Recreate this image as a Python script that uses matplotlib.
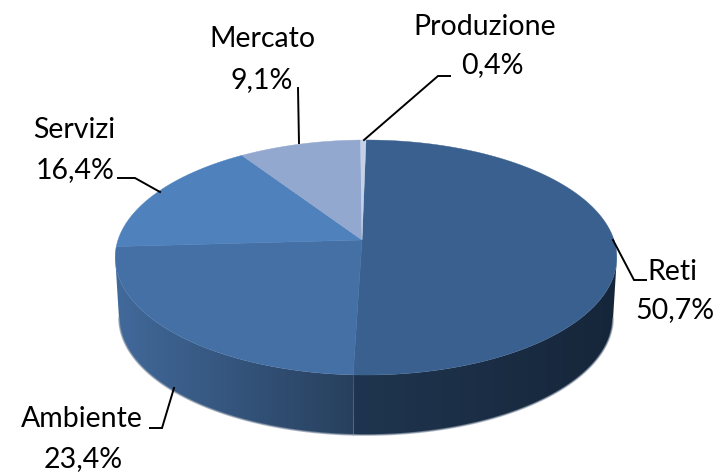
import numpy as np
import matplotlib
matplotlib.use("Agg")
import matplotlib.pyplot as plt
from matplotlib.colors import LinearSegmentedColormap
from matplotlib.patches import Polygon

plt.rcParams['font.family'] = ['Lato', 'DejaVu Sans']

categorie = ["Reti", "Ambiente", "Servizi", "Mercato", "Produzione"]
valori = [50.7, 23.4, 16.4, 9.1, 0.4]
colori = ["#3a608f", "#4470a5", "#4f81bd", "#92a8cf", "#c5d1e6"]
# gradient of the side wall, left to right, per slice
colori_lato = [("#1f354f", "#16263a"), ("#41699a", "#28405e"), ("#41699a", "#41699a"),
               ("#41699a", "#41699a"), ("#41699a", "#41699a")]

# label centre, leader line
pos_testo = [(672, 272, 675, 310), (82, 419, 83, 459), (74, 130, 75, 170),
             (262, 39, 262, 80), (485, 27, 492, 65)]
linee = [[(613, 240), (634, 280), (646, 280)],
         [(174, 388), (162, 428), (150, 428)],
         [(160, 192), (135, 178), (118, 178)],
         [(299, 143), (298, 88)],
         [(364, 140), (438, 76), (450, 76)]]

# perspective of the disc
CX, CY_APICE = 366, 240
K = 0.149
B = 114.9
S = 248
ALTEZZA = 60
CY_ELLISSE = 257.5


def proietta(theta):
    # theta clockwise from the top, radians
    u = np.sin(theta)
    v = np.cos(theta)
    d = 1 + K * v
    return CX + S * u / d, CY_APICE - B * v / d


fig = plt.figure(figsize=(7.17, 4.72), dpi=100)
ax = fig.add_axes([0, 0, 1, 1])
ax.set_xlim(0, 717)
ax.set_ylim(472, 0)
ax.axis("off")

cum = np.cumsum([0] + valori) / 100 * 2 * np.pi

# side wall
for i in range(len(valori)):
    t = np.linspace(cum[i], cum[i + 1], 200)
    x, y = proietta(t)
    m = y >= CY_ELLISSE
    if m.sum() < 2:
        continue
    x, y = x[m], y[m]
    xb = CX + (x - CX) * 0.985
    yb = y + ALTEZZA
    pts = np.column_stack([np.r_[x, xb[::-1]], np.r_[y, yb[::-1]]])
    pol = Polygon(pts, closed=True, facecolor="none", edgecolor="none")
    ax.add_patch(pol)
    cmap = LinearSegmentedColormap.from_list("lato", colori_lato[i])
    grad = np.linspace(0, 1, 64).reshape(1, -1)
    im = ax.imshow(grad, cmap=cmap, extent=[pts[:, 0].min(), pts[:, 0].max(), pts[:, 1].max(), pts[:, 1].min()],
                   aspect="auto", zorder=2, interpolation="bilinear")
    im.set_clip_path(pol)
    ax.plot(xb, yb, color="#8f9bab", lw=1.2, alpha=0.7, zorder=3)

# top face
for i in range(len(valori)):
    t = np.linspace(cum[i], cum[i + 1], 200)
    x, y = proietta(t)
    ax.fill(np.r_[CX - 4, x], np.r_[CY_APICE, y], color=colori[i], lw=0.3, zorder=4)

ax.set_xlim(0, 717)
ax.set_ylim(472, 0)

# labels
for i, nome in enumerate(categorie):
    xl = [p[0] for p in linee[i]]
    yl = [p[1] for p in linee[i]]
    ax.plot(xl, yl, color="black", lw=1.4, zorder=5, solid_joinstyle="miter")
    tx, ty, px, py = pos_testo[i]
    ax.text(tx, ty, nome, ha="center", va="center", fontsize=20.5, color="black", zorder=6)
    ax.text(px, py, f"{valori[i]:.1f}%".replace(".", ","), ha="center", va="center",
            fontsize=20.5, color="black", zorder=6)

fig.savefig("out.png", dpi=100)
